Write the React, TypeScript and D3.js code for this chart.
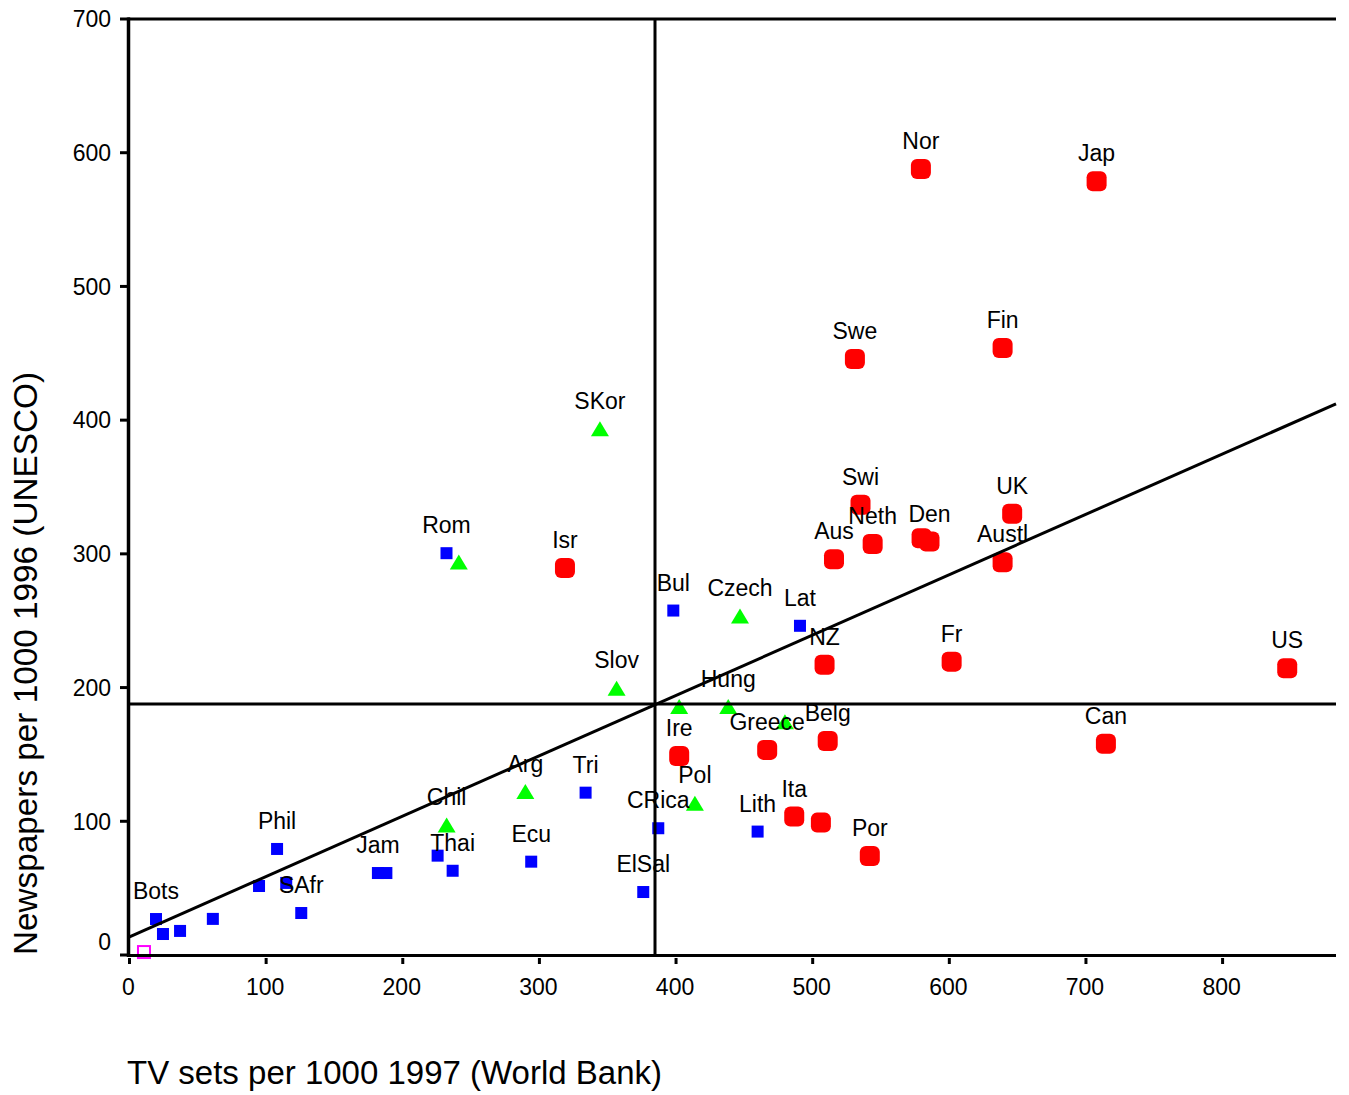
import React, { useEffect, useRef } from "react";
import * as d3 from "d3";

// countries below both means (blue squares)
const lowGroup = [
  { name: "Bots", tv: 19.4, news: 26.9 },
  { name: "", tv: 24.5, news: 15.7 },
  { name: "", tv: 37, news: 18 },
  { name: "", tv: 61, news: 27 },
  { name: "", tv: 94.8, news: 51.6 },
  { name: "Phil", tv: 108, news: 79.3 },
  { name: "", tv: 114.7, news: 53.9 },
  { name: "SAfr", tv: 125.7, news: 31.4 },
  { name: "Jam", tv: 181.8, news: 61.3 },
  { name: "", tv: 188, news: 61.3 },
  { name: "", tv: 225.5, news: 74.3 },
  { name: "Thai", tv: 236.5, news: 63 },
  { name: "Rom", tv: 232, news: 300.5 },
  { name: "Ecu", tv: 294, news: 69.8 },
  { name: "Tri", tv: 333.8, news: 121.4 },
  { name: "ElSal", tv: 376, news: 47.1 },
  { name: "CRica", tv: 387, news: 94.8 },
  { name: "Bul", tv: 398, news: 257.6 },
  { name: "Lith", tv: 459.7, news: 92.3 },
  { name: "Lat", tv: 490.7, news: 246.2 },
];

// middle group (green triangles)
const midGroup = [
  { name: "", tv: 241, news: 294 },
  { name: "Chil", tv: 232.1, news: 97.3 },
  { name: "Arg", tv: 289.7, news: 122.2 },
  { name: "SKor", tv: 344.3, news: 393.5 },
  { name: "Slov", tv: 356.5, news: 199.5 },
  { name: "", tv: 402.3, news: 185.8 },
  { name: "Pol", tv: 413.8, news: 113.5 },
  { name: "Hung", tv: 438.2, news: 185.8 },
  { name: "Czech", tv: 446.8, news: 253.6 },
  { name: "", tv: 479.7, news: 174.5 },
];

// high group (red)
const highGroup = [
  { name: "Isr", tv: 318.7, news: 289.5 },
  { name: "Ire", tv: 402.3, news: 148.9 },
  { name: "Greece", tv: 466.7, news: 153.4 },
  { name: "Ita", tv: 486.5, news: 103.5 },
  { name: "", tv: 506, news: 99 },
  { name: "NZ", tv: 508.7, news: 217 },
  { name: "Belg", tv: 511, news: 160.1 },
  { name: "Aus", tv: 515.6, news: 296 },
  { name: "Swe", tv: 530.9, news: 445.7 },
  { name: "Swi", tv: 535, news: 336.7 },
  { name: "Por", tv: 541.8, news: 74 },
  { name: "Neth", tv: 543.9, news: 307.3 },
  { name: "Nor", tv: 579.2, news: 587.8 },
  { name: "", tv: 579.7, news: 311.7 },
  { name: "Den", tv: 585.5, news: 309.2 },
  { name: "Fr", tv: 601.7, news: 219.4 },
  { name: "Fin", tv: 639, news: 453.9 },
  { name: "Austl", tv: 639, news: 293.8 },
  { name: "UK", tv: 646, news: 330 },
  { name: "Jap", tv: 707.8, news: 578.6 },
  { name: "Can", tv: 714.6, news: 157.9 },
  { name: "US", tv: 847.3, news: 214.5 },
];

const outlier = [{ name: "", tv: 10.6, news: 2.2 }];

const xTicks = [0, 100, 200, 300, 400, 500, 600, 700, 800];
const yTicks = [0, 100, 200, 300, 400, 500, 600, 700];

const meanTV = 384.6;
const meanNews = 187.8;
const fitLine = [
  { tv: 0, news: 13.6 },
  { tv: 883, news: 412.2 },
];

const font = "'Liberation Sans', Arial, sans-serif";

function Chart() {
  const ref = useRef<SVGSVGElement>(null);

  useEffect(() => {
    const svg = d3.select(ref.current);
    svg.selectAll("*").remove();

    const left = 129.5;
    const right = 1336;
    const top = 19;
    const bottom = 955;

    const x = d3.scaleLinear().domain([0, 883]).range([left, right]);
    const y = d3.scaleLinear().domain([0, 700]).range([bottom, top]);

    const g = svg.append("g");

    // markers
    g.selectAll("rect.low")
      .data(lowGroup)
      .enter()
      .append("rect")
      .attr("x", (d) => x(d.tv) - 6)
      .attr("y", (d) => y(d.news) - 6)
      .attr("width", 12)
      .attr("height", 12)
      .attr("fill", "#0000ff");

    g.selectAll("path.mid")
      .data(midGroup)
      .enter()
      .append("path")
      .attr("d", (d) => {
        const cx = x(d.tv);
        const cy = y(d.news);
        return `M${cx},${cy - 7.5}L${cx + 9},${cy + 7.5}L${cx - 9},${cy + 7.5}Z`;
      })
      .attr("fill", "#00ff00");

    g.selectAll("rect.high")
      .data(highGroup)
      .enter()
      .append("rect")
      .attr("x", (d) => x(d.tv) - 10)
      .attr("y", (d) => y(d.news) - 10)
      .attr("width", 20)
      .attr("height", 20)
      .attr("rx", 6)
      .attr("fill", "#ff0000");

    g.selectAll("rect.out")
      .data(outlier)
      .enter()
      .append("rect")
      .attr("x", (d) => x(d.tv) - 6)
      .attr("y", (d) => y(d.news) - 6)
      .attr("width", 12)
      .attr("height", 12)
      .attr("fill", "none")
      .attr("stroke", "#ff00ff")
      .attr("stroke-width", 2);

    // mean lines and fitted line
    const line = d3
      .line<{ tv: number; news: number }>()
      .x((d) => x(d.tv))
      .y((d) => y(d.news));

    g.append("path")
      .attr("d", line(fitLine))
      .attr("stroke", "#000")
      .attr("stroke-width", 3)
      .attr("fill", "none");

    g.append("line")
      .attr("x1", x(meanTV))
      .attr("x2", x(meanTV))
      .attr("y1", top)
      .attr("y2", bottom)
      .attr("stroke", "#000")
      .attr("stroke-width", 3);

    g.append("line")
      .attr("x1", left)
      .attr("x2", right)
      .attr("y1", y(meanNews))
      .attr("y2", y(meanNews))
      .attr("stroke", "#000")
      .attr("stroke-width", 3);

    // labels
    const all = [...lowGroup, ...midGroup, ...highGroup].filter((d) => d.name);
    g.selectAll("text.lbl")
      .data(all)
      .enter()
      .append("text")
      .attr("x", (d) => x(d.tv))
      .attr("y", (d) => y(d.news) - 20)
      .attr("text-anchor", "middle")
      .style("font-family", font)
      .style("font-size", "23px")
      .attr("fill", "#000")
      .text((d) => d.name);

    // frame
    g.append("line")
      .attr("x1", left - 1)
      .attr("x2", right)
      .attr("y1", top)
      .attr("y2", top)
      .attr("stroke", "#000")
      .attr("stroke-width", 3);
    g.append("line")
      .attr("x1", left - 1)
      .attr("x2", right)
      .attr("y1", bottom + 0.5)
      .attr("y2", bottom + 0.5)
      .attr("stroke", "#000")
      .attr("stroke-width", 3);
    g.append("line")
      .attr("x1", left - 1)
      .attr("x2", left - 1)
      .attr("y1", top - 1.5)
      .attr("y2", bottom + 2)
      .attr("stroke", "#000")
      .attr("stroke-width", 3.5);

    // y axis ticks
    const yAx = g.selectAll("g.ytick").data(yTicks).enter().append("g");
    yAx
      .append("line")
      .attr("x1", 120)
      .attr("x2", left)
      .attr("y1", (d) => y(d))
      .attr("y2", (d) => y(d))
      .attr("stroke", "#000")
      .attr("stroke-width", 3);
    yAx
      .append("text")
      .attr("x", 111)
      .attr("y", (d) => (d === 0 ? y(d) - 13 : y(d)))
      .attr("dy", "0.36em")
      .attr("text-anchor", "end")
      .style("font-family", font)
      .style("font-size", "23px")
      .text((d) => d);

    // x axis ticks
    const xAx = g.selectAll("g.xtick").data(xTicks).enter().append("g");
    xAx
      .append("line")
      .attr("x1", (d) => x(d))
      .attr("x2", (d) => x(d))
      .attr("y1", 958)
      .attr("y2", 964)
      .attr("stroke", "#000")
      .attr("stroke-width", 3);
    xAx
      .append("text")
      .attr("x", (d) => x(d) - 1)
      .attr("y", 995)
      .attr("text-anchor", "middle")
      .style("font-family", font)
      .style("font-size", "23px")
      .text((d) => d);

    // axis titles
    g.append("text")
      .attr("x", 127)
      .attr("y", 1084)
      .style("font-family", font)
      .style("font-size", "33px")
      .text("TV sets per 1000 1997 (World Bank)");

    g.append("text")
      .attr("transform", "translate(37,955) rotate(-90)")
      .style("font-family", font)
      .style("font-size", "33.3px")
      .text("Newspapers per 1000 1996 (UNESCO)");
  }, []);

  return (
    <svg
      ref={ref}
      width={1349}
      height={1095}
      style={{ position: "absolute", left: 0, top: 0, background: "#fff" }}
    />
  );
}

export default function App() {
  return <Chart />;
}
